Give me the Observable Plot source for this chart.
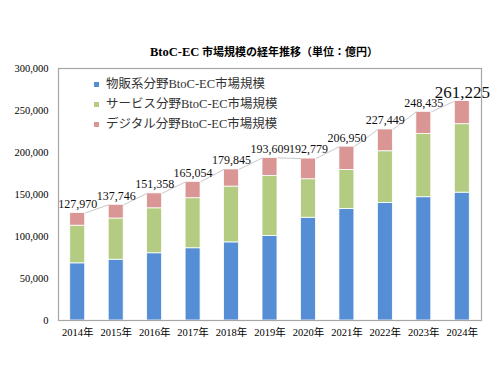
<!DOCTYPE html>
<html>
<head>
<meta charset="utf-8">
<script src="https://cdn.jsdelivr.net/npm/d3@7"></script>
<script src="https://cdn.jsdelivr.net/npm/@observablehq/plot@0.6"></script>
<style>
  html, body { margin: 0; padding: 0; background: #fff; }
  #wrap { position: relative; width: 500px; height: 375px; overflow: hidden; }
  #title { position: absolute; top: 44px; left: 28px; width: 472px; text-align: center;
    font-family: "Liberation Serif", "Noto Sans CJK JP", serif; font-weight: bold; font-size: 11px; line-height: 16px; color: #000; }
  #title .lat { font-size: 12.5px; }
  #legend { position: absolute; left: 94px; top: 74px; font-family: "Liberation Serif", "Noto Sans CJK JP", serif;
    font-size: 12.5px; color: #333; }
  #legend .row { height: 20px; line-height: 18px; display: flex; align-items: center; }
  #legend .sw { width: 5px; height: 5px; margin-right: 7px; display: inline-block; }
  #chart { position: absolute; left: 0; top: 0; }
</style>
</head>
<body>
<div id="wrap">
  <div id="chart"></div>
  <div id="title"></div>
  <div id="legend"></div>
</div>
<script>
const titleLatin = "BtoC-EC";
const titleRest = " 市場規模の経年推移（単位：億円）";
const years = ["2014年","2015年","2016年","2017年","2018年","2019年","2020年","2021年","2022年","2023年","2024年"];
const seriesNames = ["物販系分野BtoC-EC市場規模", "サービス分野BtoC-EC市場規模", "デジタル分野BtoC-EC市場規模"];
const seriesColors = ["#558ED5", "#B3CC82", "#D99694"];
const buppan  = [68043, 72398, 80043, 86008, 92992, 100515, 122333, 132865, 139997, 146760, 152194];
const service = [44816, 49014, 53532, 59568, 66471, 71672, 45832, 46424, 61477, 75169, 81522];
const digital = [15111, 16334, 17782, 19478, 20382, 21422, 24614, 27661, 25974, 26506, 27509];
const totals  = [127970, 137746, 151358, 165054, 179845, 193609, 192779, 206950, 227449, 248435, 261225];
const yTicks  = [0, 50000, 100000, 150000, 200000, 250000, 300000];

const seriesValues = [buppan, service, digital];
const rows = [];
years.forEach((y, i) => {
  seriesNames.forEach((s, k) => rows.push({i, year: y, series: s, value: seriesValues[k][i]}));
});
const totalRows = totals.map((t, i) => ({i, total: t}));
const pairs = totals.slice(0, -1).map((t, i) => ({i, t0: t, t1: totals[i + 1]}));
const hw = 0.195; // half bar width in band units
const serif = "Liberation Serif, Noto Sans CJK JP, serif";
const fmt = d3.format(",");
const last = totalRows.length - 1;

const plot = Plot.plot({
  width: 500,
  height: 375,
  marginLeft: 58,
  marginRight: 19,
  marginTop: 68,
  marginBottom: 55,
  style: {fontFamily: serif, background: "#fff", color: "#000"},
  x: {type: "linear", domain: [-0.5, years.length - 0.5], axis: null},
  y: {domain: [0, 300000], axis: null},
  color: {domain: seriesNames, range: seriesColors},
  marks: [
    Plot.rectY(rows, {x1: d => d.i - hw, x2: d => d.i + hw, y: "value", fill: "series", stroke: "#fff", strokeWidth: 0.8}),
    Plot.link(pairs, {x1: d => d.i + hw, y1: "t0", x2: d => d.i + 1 - hw, y2: "t1", stroke: "#c8c8c8", strokeWidth: 1}),
    Plot.frame({stroke: "#a6a6a6", strokeWidth: 1.2}),
    Plot.axisY({ticks: yTicks, tickSize: 0, tickPadding: 10, tickFormat: fmt, fontSize: 10.5, fill: "#000", label: null}),
    Plot.axisX({ticks: years.map((_, i) => i), tickSize: 0, tickPadding: 8, tickFormat: i => years[i], fontSize: 10.5, fill: "#000", label: null}),
    Plot.text(totalRows.filter(d => d.i !== last), {x: "i", y: "total", text: d => fmt(d.total), dy: -9, fontSize: 12, fill: "#111"}),
    Plot.text(totalRows.filter(d => d.i === last), {x: "i", y: "total", text: d => fmt(d.total), dy: -9, fontSize: 17, fill: "#111"})
  ]
});
document.getElementById("chart").appendChild(plot);
const title = document.getElementById("title");
const lat = document.createElement("span");
lat.className = "lat";
lat.textContent = titleLatin;
title.appendChild(lat);
title.appendChild(document.createTextNode(titleRest));

const cs = plot.scale("color");
const legend = document.getElementById("legend");
cs.domain.forEach((name, k) => {
  const row = document.createElement("div");
  row.className = "row";
  const sw = document.createElement("span");
  sw.className = "sw";
  sw.style.background = cs.range[k];
  const tx = document.createElement("span");
  tx.textContent = name;
  row.appendChild(sw);
  row.appendChild(tx);
  legend.appendChild(row);
});
</script>
</body>
</html>
